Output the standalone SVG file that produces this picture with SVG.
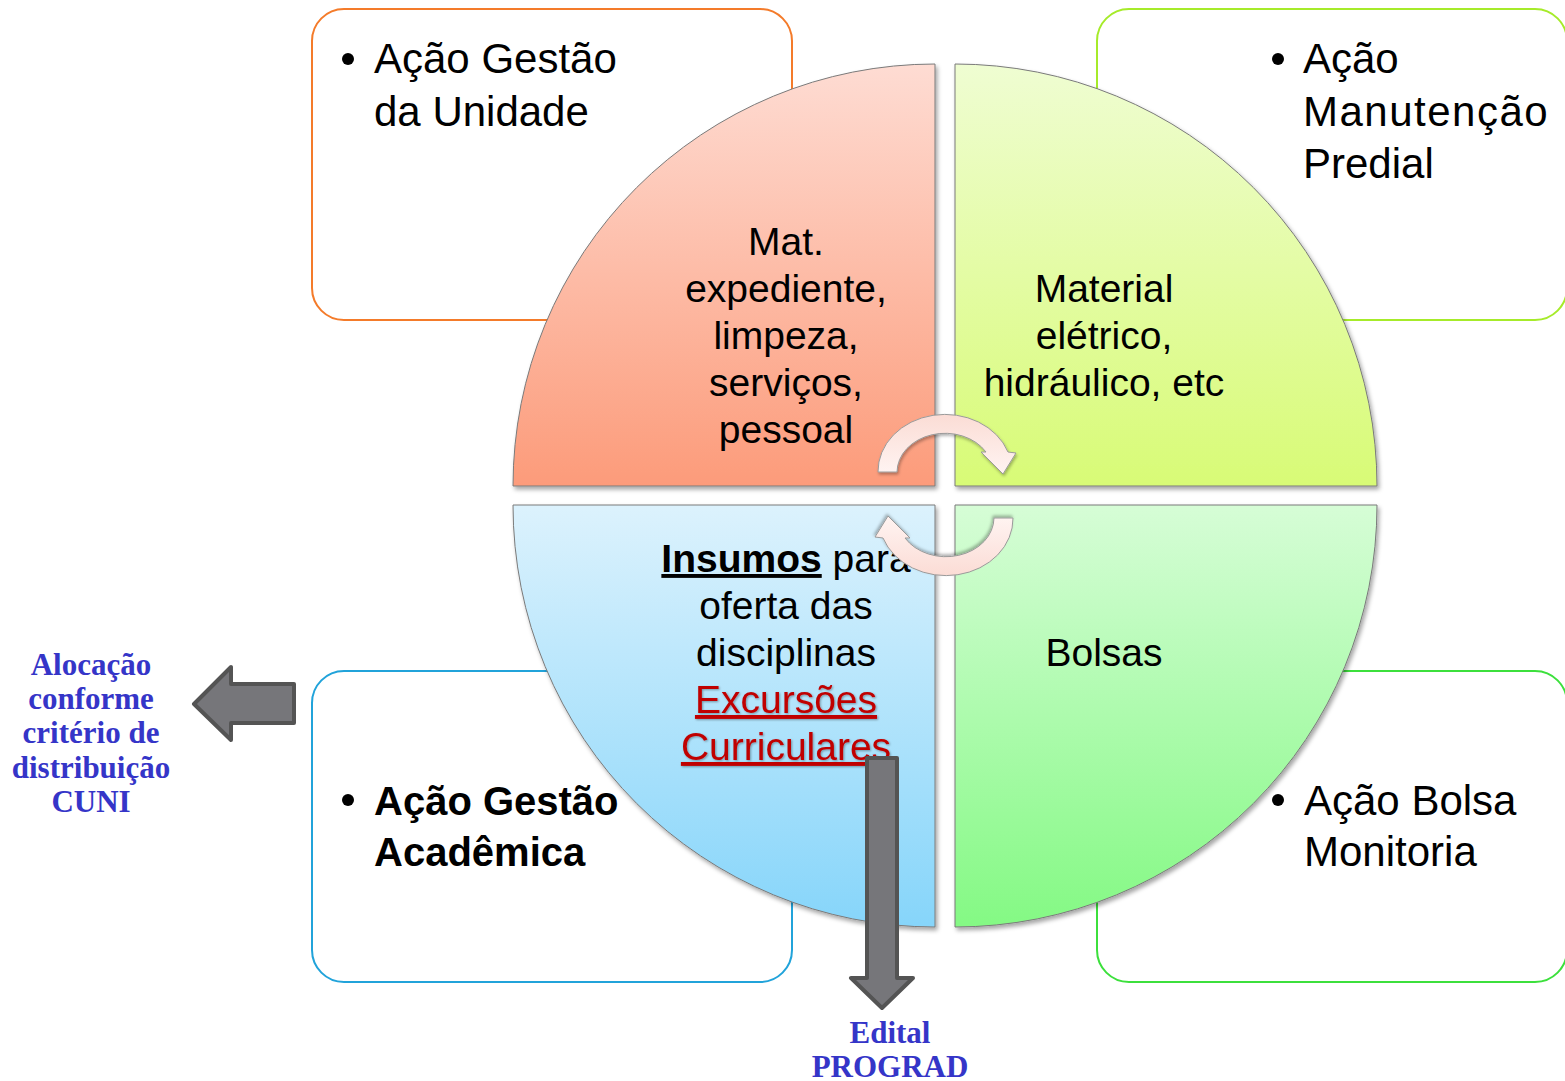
<svg xmlns="http://www.w3.org/2000/svg" width="1565" height="1081" viewBox="0 0 1565 1081">
<defs>
<style>
.box{fill:#fff;stroke-width:2}
.bt{font-family:"Liberation Sans",Arial,sans-serif;font-size:42px;fill:#000}
.qt{font-family:"Liberation Sans",Arial,sans-serif;font-size:39px;fill:#000;text-anchor:middle}
.side{font-family:"Liberation Serif","Times New Roman",serif;font-size:31px;font-weight:bold;fill:#3535C8;text-anchor:middle}
.pie{stroke:#7a7a7a;stroke-width:1;filter:url(#sh)}
.garrow{fill:#76767a;stroke:#545454;stroke-width:4;stroke-linejoin:round}
.carrow{fill:url(#gc);stroke:#9a9a9a;stroke-width:1;filter:url(#sh2)}
</style>
<filter id="sh" x="-10%" y="-10%" width="120%" height="120%"><feDropShadow dx="2" dy="3" stdDeviation="2" flood-color="#000" flood-opacity="0.35"/></filter>
<filter id="sh2" x="-20%" y="-20%" width="140%" height="140%"><feDropShadow dx="1" dy="2" stdDeviation="1.5" flood-color="#000" flood-opacity="0.3"/></filter>
<filter id="tsh" x="-5%" y="-20%" width="110%" height="140%"><feDropShadow dx="1" dy="1" stdDeviation="0.8" flood-color="#000" flood-opacity="0.35"/></filter>
<linearGradient id="gTL" x1="0" y1="0" x2="0" y2="1"><stop offset="0" stop-color="#fedcd3"/><stop offset="1" stop-color="#fc9b7a"/></linearGradient>
<linearGradient id="gTR" x1="0" y1="0" x2="0" y2="1"><stop offset="0" stop-color="#effdd2"/><stop offset="1" stop-color="#d8fb76"/></linearGradient>
<linearGradient id="gBL" x1="0" y1="0" x2="0" y2="1"><stop offset="0" stop-color="#dcf2fd"/><stop offset="1" stop-color="#86d5fa"/></linearGradient>
<linearGradient id="gBR" x1="0" y1="0" x2="0" y2="1"><stop offset="0" stop-color="#d6fdd6"/><stop offset="1" stop-color="#84f984"/></linearGradient>
<linearGradient id="gc" x1="0" y1="0" x2="0" y2="1"><stop offset="0" stop-color="#fbdcd5"/><stop offset="1" stop-color="#fff4f2"/></linearGradient>
</defs>

<g id="box-gestao-unidade"><rect class="box" x="312" y="9" width="480" height="311" rx="32" stroke="#F47B2A"/></g>
<g id="box-manutencao"><rect class="box" x="1097" y="9" width="470" height="311" rx="32" stroke="#A6EB2A"/></g>
<g id="box-gestao-academica"><rect class="box" x="312" y="671" width="480" height="311" rx="32" stroke="#21A3DA"/></g>
<g id="box-bolsa"><rect class="box" x="1097" y="671" width="470" height="311" rx="32" stroke="#3CE03C"/></g>

<g id="quad-tl">
<path class="pie" fill="url(#gTL)" d="M935 486 L513 486 A422 422 0 0 1 935 64 Z"/>
<text class="qt"><tspan x="786" y="255">Mat.</tspan><tspan x="786" y="302">expediente,</tspan><tspan x="786" y="349">limpeza,</tspan><tspan x="786" y="396">serviços,</tspan><tspan x="786" y="443">pessoal</tspan></text>
</g>
<g id="quad-tr">
<path class="pie" fill="url(#gTR)" d="M955 486 L955 64 A422 422 0 0 1 1377 486 Z"/>
<text class="qt"><tspan x="1104" y="302">Material</tspan><tspan x="1104" y="349">elétrico,</tspan><tspan x="1104" y="396">hidráulico, etc</tspan></text>
</g>
<g id="quad-bl">
<path class="pie" fill="url(#gBL)" d="M935 505 L935 927 A422 422 0 0 1 513 505 Z"/>
<text class="qt"><tspan x="786" y="572"><tspan font-weight="bold" text-decoration="underline">Insumos</tspan> para</tspan><tspan x="786" y="619">oferta das</tspan><tspan x="786" y="666">disciplinas</tspan></text>
<text class="qt" style="fill:#C00000" text-decoration="underline" filter="url(#tsh)"><tspan x="786" y="713">Excursões</tspan><tspan x="786" y="760">Curriculares</tspan></text>
</g>
<g id="quad-br">
<path class="pie" fill="url(#gBR)" d="M955 505 L1377 505 A422 422 0 0 1 955 927 Z"/>
<text class="qt" x="1104" y="666">Bolsas</text>
</g>

<g id="text-gestao-unidade">
<circle cx="348" cy="59" r="6"/>
<text class="bt"><tspan x="374" y="73">Ação Gestão</tspan><tspan x="374" y="126">da Unidade</tspan></text>
</g>
<g id="text-manutencao">
<circle cx="1278" cy="59" r="6"/>
<text class="bt"><tspan x="1303" y="73">Ação</tspan><tspan x="1303" y="126" letter-spacing="1.5">Manutenção</tspan><tspan x="1303" y="178">Predial</tspan></text>
</g>
<g id="text-gestao-academica">
<circle cx="348" cy="800" r="6"/>
<text class="bt" style="font-size:40px;font-weight:bold"><tspan x="374" y="815">Ação Gestão</tspan><tspan x="374" y="866">Acadêmica</tspan></text>
</g>
<g id="text-bolsa">
<circle cx="1278" cy="800" r="6"/>
<text class="bt"><tspan x="1304" y="815">Ação Bolsa</tspan><tspan x="1304" y="866">Monitoria</tspan></text>
</g>

<g id="connectors">
<path class="carrow" d="M878 472 A67 57 0 0 1 1008 452 L1016 453 L1003 474 L981 452 L986 452 A48 39 0 0 0 897 472 Z"/>
<path class="carrow" transform="rotate(180 945.5 495)" d="M878 472 A67 57 0 0 1 1008 452 L1016 453 L1003 474 L981 452 L986 452 A48 39 0 0 0 897 472 Z"/>
<path class="garrow" d="M194 704 L231 667 L231 684 L294 684 L294 723 L231 723 L231 740 Z"/>
<path class="garrow" d="M867 758 L897 758 L897 978 L913 978 L882 1008 L851 978 L867 978 Z"/>
</g>

<g id="label-alocacao">
<text class="side"><tspan x="91" y="675">Alocação</tspan><tspan x="91" y="709">conforme</tspan><tspan x="91" y="743">critério de</tspan><tspan x="91" y="778">distribuição</tspan><tspan x="91" y="812">CUNI</tspan></text>
</g>
<g id="label-edital">
<text class="side"><tspan x="890" y="1043">Edital</tspan><tspan x="890" y="1077">PROGRAD</tspan></text>
</g>
</svg>
